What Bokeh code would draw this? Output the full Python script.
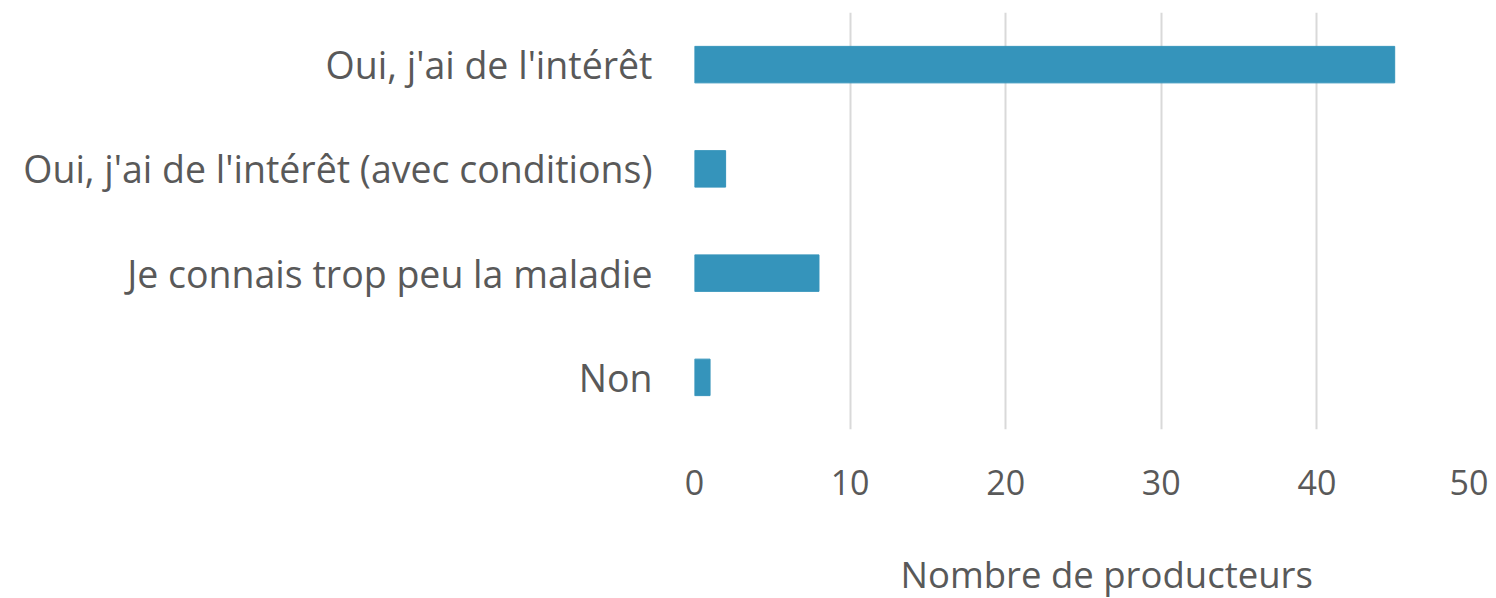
from bokeh.plotting import figure
from bokeh.models import FactorRange, Range1d, Title, FixedTicker
from bokeh.embed import file_html
from bokeh.resources import INLINE

categories = ["Oui, j'ai de l'intérêt", "Oui, j'ai de l'intérêt (avec conditions)",
              "Je connais trop peu la maladie", "Non"]
values = [45, 2, 8, 1]
x_ticks = [0, 10, 20, 30, 40, 50]
x_title = "Nombre de producteurs"

FONT = "Open Sans"
TXT = "#595959"

p = figure(width=1488, height=598, output_backend="svg", toolbar_location=None,
           y_range=FactorRange(*list(reversed(categories)), range_padding=0),
           x_range=Range1d(0, 50),
           min_border_left=694, min_border_right=16, min_border_top=12, min_border_bottom=166)

p.hbar(y=categories, right=values, left=0, height=0.35, color="#3594bb")

p.outline_line_color = None
p.ygrid.grid_line_color = None
p.xgrid.grid_line_color = "#d9d9d9"
p.xgrid.grid_line_width = 2
p.xaxis.ticker = FixedTicker(ticks=x_ticks)

for ax in (p.xaxis, p.yaxis):
    ax.axis_line_color = None
    ax.major_tick_line_color = None
    ax.minor_tick_line_color = None
    ax.major_tick_out = 0
    ax.major_tick_in = 0
    ax.minor_tick_out = 0
    ax.major_label_text_font = FONT
    ax.major_label_text_color = TXT

p.yaxis.major_label_text_font_size = "37.5px"
p.yaxis.major_label_standoff = 42
p.xaxis.major_label_text_font_size = "34px"
p.xaxis.major_label_standoff = 40
# invisible spacer below the tick labels
p.xaxis.axis_label = "\u00a0"
p.xaxis.axis_label_text_font_size = "10px"
p.xaxis.axis_label_standoff = 35

t = Title(text=x_title, align="left", offset=206, text_font=FONT, text_font_size="36.5px",
          text_color=TXT, text_font_style="normal", standoff=0, vertical_align="bottom")
p.add_layout(t, "below")

open("out.html", "w").write(file_html(p, INLINE))
